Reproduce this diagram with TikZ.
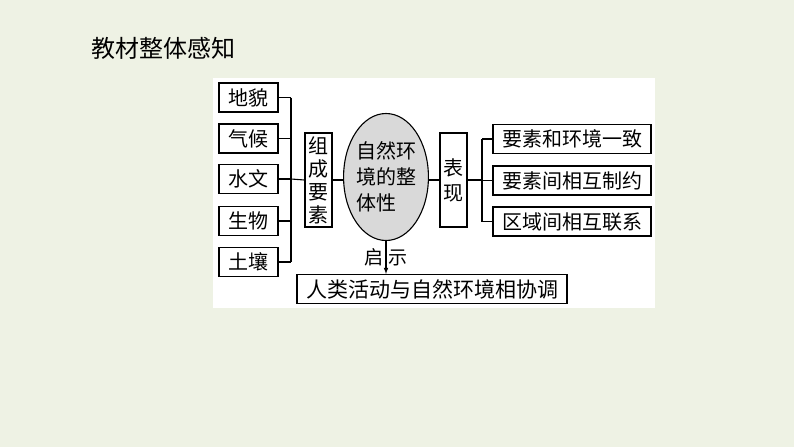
\documentclass[tikz,border=0pt]{standalone}
\usepackage{fontspec}
\setmainfont{Noto Sans CJK SC}
\usetikzlibrary{shapes.geometric}
\definecolor{pagebg}{HTML}{EEF2E4}
\definecolor{ellgray}{HTML}{D9D9D9}
\tikzset{
    itembox/.style={draw, line width=1.1pt, inner sep=0pt, minimum height=29pt,
        font=\fontsize{20}{20}\selectfont},
    tallbox/.style={draw, line width=1.1pt, inner sep=0pt, minimum width=27pt,
        minimum height=94pt, align=center, font=\fontsize{20}{23}\selectfont},
    link/.style={line width=1.1pt}
}
\begin{document}
\begin{tikzpicture}[x=1pt, y=-1pt]
    % Page background and white panel
    \fill[pagebg] (0,0) rectangle (794,447);
    \useasboundingbox (0,0) rectangle (794,447);
    \fill[white] (213,78) rectangle (655,308);

    % Title
    \node[font=\fontsize{24}{24}\selectfont, anchor=west] (title) at (88,48) {教材整体感知};

    % Left column: the elements
    \foreach \name/\txt/\y in {dimao/地貌/97.5, qihou/气候/138.5, shuiwen/水文/179, shengwu/生物/221, turang/土壤/262} {
        \node[itembox, minimum width=59pt] (\name) at (248.5,\y) {\txt};
    }
    \coordinate (lbr) at (291,179);

    % Center: element box, core ellipse, appearance box
    \node[tallbox] (zucheng) at (318.5,180) {组\\成\\要\\素};
    \node[ellipse, draw, line width=1.1pt, fill=ellgray, minimum width=82pt,
        minimum height=127pt, inner sep=0pt, align=left,
        font=\fontsize{20}{26}\selectfont] (core) at (386,177) {自然环\\境的整\\体性};
    \node[tallbox, font=\fontsize{20}{25}\selectfont] (biaoxian) at (453.5,180) {表\\现};
    \coordinate (rbr) at (482,180);

    % Right column: the appearances
    \foreach \name/\txt/\y in {yizhi/要素和环境一致/139, zhiyue/要素间相互制约/180.5, lianxi/区域间相互联系/221.5} {
        \node[itembox, minimum width=158pt] (\name) at (572,\y) {\txt};
    }

    % Bottom: the lesson
    \node[itembox, minimum width=270pt, font=\fontsize{21}{21}\selectfont] (xietiao) at (432,289) {人类活动与自然环境相协调};

    % Left bracket
    \foreach \name in {dimao, qihou, shuiwen, shengwu, turang} {
        \draw[link] (\name.east) -- (\name.east -| lbr);
    }
    \draw[link] (dimao.east -| lbr) -- (turang.east -| lbr);
    \draw[link] (shuiwen.east -| lbr) -- (zucheng.west);
    \draw[link] (zucheng.east) -- (zucheng.east -| core.west);
    \draw[link] (core.east |- biaoxian.west) -- (biaoxian.west);

    % Right bracket
    \draw[link] (biaoxian.east) -- (rbr);
    \draw[link] (yizhi.west -| rbr) -- (lianxi.west -| rbr);
    \foreach \name in {yizhi, zhiyue, lianxi} {
        \draw[link] (\name.west -| rbr) -- (\name.west);
    }

    % Arrow down with label
    \draw[link, -latex] (core.south) -- (core.south |- xietiao.north)
        node[midway, font=\fontsize{19}{19}\selectfont] (qishi) {启\hspace{6pt}示};
\end{tikzpicture}
\end{document}
